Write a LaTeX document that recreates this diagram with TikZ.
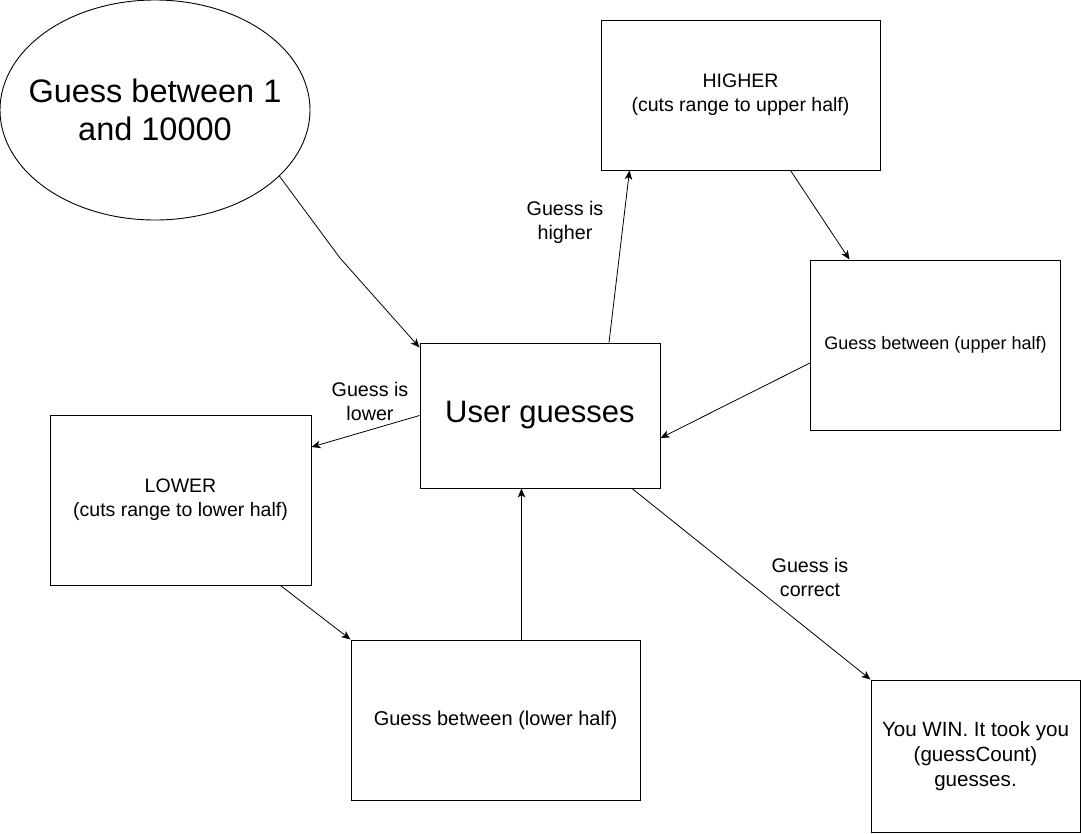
\documentclass[tikz,border=0pt]{standalone}
\usepackage{fontspec}
\setmainfont{Liberation Sans}
\usetikzlibrary{arrows.meta}
\usetikzlibrary{shapes.geometric}

\begin{document}
\begin{tikzpicture}[x=1pt,y=-1pt,>={Stealth[length=9pt,width=7.5pt,inset=2.5pt]},auto,box node/.style={rectangle,draw,line width=1pt,inner sep=0pt,align=center},start node/.style={ellipse,draw,line width=0.9pt,inner sep=0pt},label node/.style={align=center,font=\fontsize{19.7}{24}\selectfont}]

  \useasboundingbox (0,0) rectangle (1081,833);

  \node[start node,minimum width=310pt,minimum height=220pt,label={[align=center,font=\fontsize{32.5}{38}\selectfont]center:Guess between 1\\and 10000}] (start) at (155,110) {};
  \node[box node,minimum width=279pt,minimum height=150pt,font=\fontsize{19.5}{24}\selectfont] (higher) at (740.5,95) {HIGHER\\(cuts range to upper half)};
  \node[box node,minimum width=250pt,minimum height=170pt,font=\fontsize{18}{22}\selectfont] (upper) at (935.5,345) {Guess between (upper half)};
  \node[box node,minimum width=240pt,minimum height=145pt,font=\fontsize{31}{37}\selectfont] (user) at (540,415.5) {User guesses};
  \node[box node,minimum width=261pt,minimum height=170pt,font=\fontsize{19.5}{24}\selectfont] (lower) at (180.5,500) {LOWER\\(cuts range to lower half)};
  \node[box node,minimum width=289pt,minimum height=160pt,font=\fontsize{20}{24}\selectfont] (lowerhalf) at (495.5,720) {Guess between (lower half)};
  \node[box node,minimum width=209pt,minimum height=152pt,font=\fontsize{20.6}{25}\selectfont] (win) at (975.5,756) {You WIN. It took you\\(guessCount)\\guesses.};

  \node[label node] (lblhigher) at (565,222) {Guess is\\higher};
  \node[label node] (lbllower) at (370,401) {Guess is\\lower};
  \node[label node] (lblcorrect) at (810,577) {Guess is\\correct};

  \coordinate (bend) at (340,258);

  \draw[->,line width=0.8pt] (start.-28.4) -- (bend) -- ([yshift=-5pt]user.north west);
  \path[->,line width=0.8pt]
    ([xshift=69pt]user.north) edge ([xshift=-111pt]higher.south)
    ([xshift=50pt]higher.south) edge ([xshift=-86pt]upper.north)
    ([yshift=-18pt]upper.west) edge ([yshift=-22.5pt]user.east)
    (user.west) edge ([yshift=53pt]lower.east)
    ([xshift=100pt]lower.south) edge (lowerhalf.north west)
    ([xshift=26pt]lowerhalf.north) edge ([xshift=-18.5pt]user.south)
    ([xshift=92pt]user.south) edge (win.north west);

\end{tikzpicture}
\end{document}
